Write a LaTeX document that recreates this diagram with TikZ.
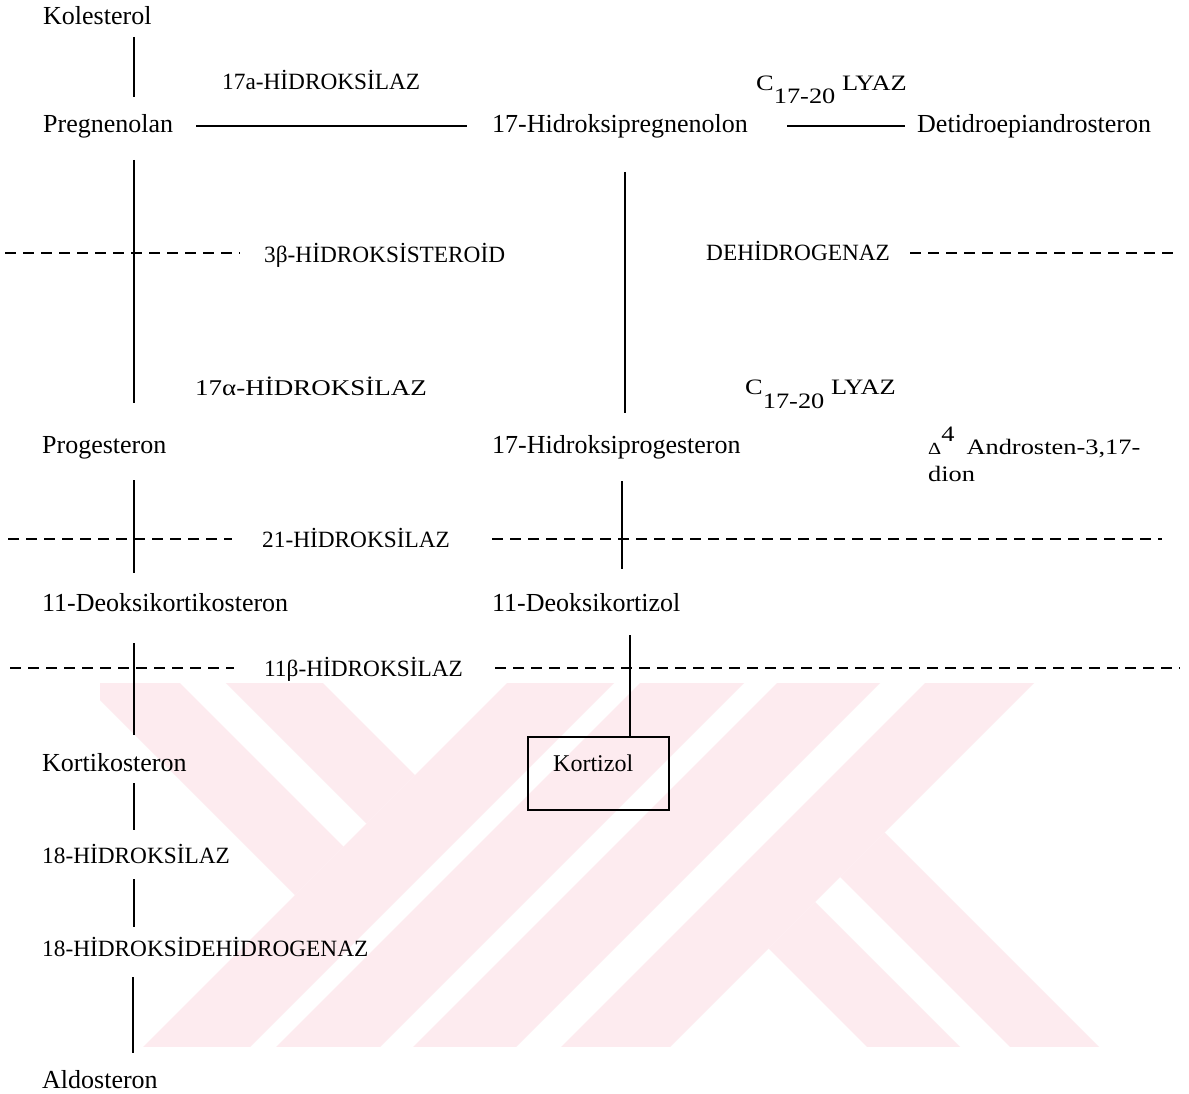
\documentclass[tikz,border=0pt]{standalone}
\usepackage{fontspec}
\setmainfont{Liberation Serif}
\newfontfamily\widefont[FakeStretch=1.2]{Liberation Serif}
\definecolor{wm}{RGB}{253,235,239}
\begin{document}
\begin{tikzpicture}[x=1pt,y=-1pt,
  body/.style={anchor=base west, inner sep=0pt, font=\fontsize{26}{30}\selectfont},
  enz/.style={anchor=base west, inner sep=0pt, font=\fontsize{23.3}{28}\selectfont},
  wide/.style={anchor=base west, inner sep=0pt, font=\widefont\fontsize{22}{26}\selectfont},
  link/.style={line width=2.2pt},
  thinlink/.style={line width=1.6pt},
  dashline/.style={line width=1.8pt, dash pattern=on 11pt off 7pt},
  boxstyle/.style={draw, line width=2.2pt, minimum width=141pt, minimum height=73pt, anchor=north west, inner sep=0pt}
]
\useasboundingbox (0,0) rectangle (1189,1094);
\fill[white] (0,0) rectangle (1189,1094);

% watermark
\begin{scope}
\clip (100,683) rectangle (1110,1046);
\fill[wm] (-105,495) -- (295,895) -- (343.5,846.5) -- (-56.5,446.5) -- cycle;
\fill[wm] (-33.5,423.5) -- (366.5,823.5) -- (415,775) -- (15,375) -- cycle;
\foreach \a/\b in {1190/1297,1323/1427,1460/1563,1608/1717}
  \fill[wm] ({\a-650},650) -- ({\b-650},650) -- ({\b-1100},1100) -- ({\a-1100},1100) -- cycle;
\fill[wm] (768.5,948.5) -- (815,902) -- (1215,1302) -- (1168.5,1348.5) -- cycle;
\fill[wm] (840,877) -- (884.5,832.5) -- (1284.5,1232.5) -- (1240,1277) -- cycle;
\end{scope}

% texts
\node[body] (kol) at (43,25) {Kolesterol};
\node[enz] (e17a) at (222,90) {17a-HİDROKSİLAZ};
\node[wide] (lyaz1) at (756,91) {C\raisebox{-13pt}{17-20} LYAZ};
\node[body] (preg) at (43,133) {Pregnenolan};
\node[body] (hpreg) at (492,133) {17-Hidroksipregnenolon};
\node[body] (dhea) at (917,133) {Detidroepiandrosteron};
\node[enz] (e3b) at (264,262) {3β-HİDROKSİSTEROİD};
\node[enz] (dehid) at (706,261) {DEHİDROGENAZ};
\node[wide, font=\widefont\fontsize{22.5}{26}\selectfont] (e17al) at (195,395) {17α-HİDROKSİLAZ};
\node[wide] (lyaz2) at (745,394) {C\raisebox{-14pt}{17-20} LYAZ};
\node[body] (prog) at (42,453) {Progesteron};
\node[body] (hprog) at (492,453) {17-Hidroksiprogesteron};
\node[wide] (andro) at (928,454) {{\fontsize{17}{20}\selectfont Δ}\raisebox{13pt}{4}\hspace{12pt}Androsten-3,17-};
\node[wide] (dion) at (928,481) {dion};
\node[enz] (e21) at (262,547) {21-HİDROKSİLAZ};
\node[body] (doc) at (42,611) {11-Deoksikortikosteron};
\node[body] (dcort) at (492,611) {11-Deoksikortizol};
\node[enz] (e11b) at (264,676) {11β-HİDROKSİLAZ};
\node[body] (cortic) at (42,771) {Kortikosteron};
\node[boxstyle] (kbox) at (527,736) {};
\node[enz, font=\fontsize{24}{28}\selectfont] (kortizol) at (553,771) {Kortizol};
\node[enz] (e18) at (42,863) {18-HİDROKSİLAZ};
\node[enz] (e18d) at (42,956) {18-HİDROKSİDEHİDROGENAZ};
\node[body] (aldo) at (42,1088) {Aldosteron};

% connector end points
\coordinate (v1a) at (134,37);  \coordinate (v1b) at (134,97);
\coordinate (h1a) at (196,126); \coordinate (h1b) at (467,126);
\coordinate (h2a) at (787,126); \coordinate (h2b) at (905,126);
\coordinate (v2a) at (134,160); \coordinate (v2b) at (134,403);
\coordinate (v3a) at (625,172); \coordinate (v3b) at (625,413);
\coordinate (d1a) at (5,253);   \coordinate (d1b) at (240,253);
\coordinate (d2a) at (910,253); \coordinate (d2b) at (1180,253);
\coordinate (v4a) at (134,480); \coordinate (v4b) at (134,573);
\coordinate (d3a) at (8,539);   \coordinate (d3b) at (232,539);
\coordinate (d4a) at (492,539); \coordinate (d4b) at (1162,539);
\coordinate (v5a) at (622,481); \coordinate (v5b) at (622,569);
\coordinate (v6a) at (134,643); \coordinate (v6b) at (134,735);
\coordinate (d5a) at (10,668);  \coordinate (d5b) at (234,668);
\coordinate (d6a) at (495,668); \coordinate (d6b) at (1180,668);
\coordinate (v7a) at (630,635);
\coordinate (v8a) at (134,783); \coordinate (v8b) at (134,830);
\coordinate (v9a) at (134,879); \coordinate (v9b) at (134,927);
\coordinate (v10a) at (133,977); \coordinate (v10b) at (133,1053);

% connectors
\draw[link] (v1a) -- (v1b);
\draw[thinlink] (h1a) -- (h1b);
\draw[thinlink] (h2a) -- (h2b);
\draw[link] (v2a) -- (v2b);
\draw[link] (v3a) -- (v3b);
\draw[dashline] (d1a) -- (d1b);
\draw[dashline] (d2a) -- (d2b);
\draw[link] (v4a) -- (v4b);
\draw[dashline] (d3a) -- (d3b);
\draw[dashline] (d4a) -- (d4b);
\draw[link] (v5a) -- (v5b);
\draw[link] (v6a) -- (v6b);
\draw[dashline] (d5a) -- (d5b);
\draw[dashline] (d6a) -- (d6b);
\draw[link] (v7a) -- (v7a |- kbox.north);
\draw[link] (v8a) -- (v8b);
\draw[link] (v9a) -- (v9b);
\draw[link] (v10a) -- (v10b);
\end{tikzpicture}
\end{document}
